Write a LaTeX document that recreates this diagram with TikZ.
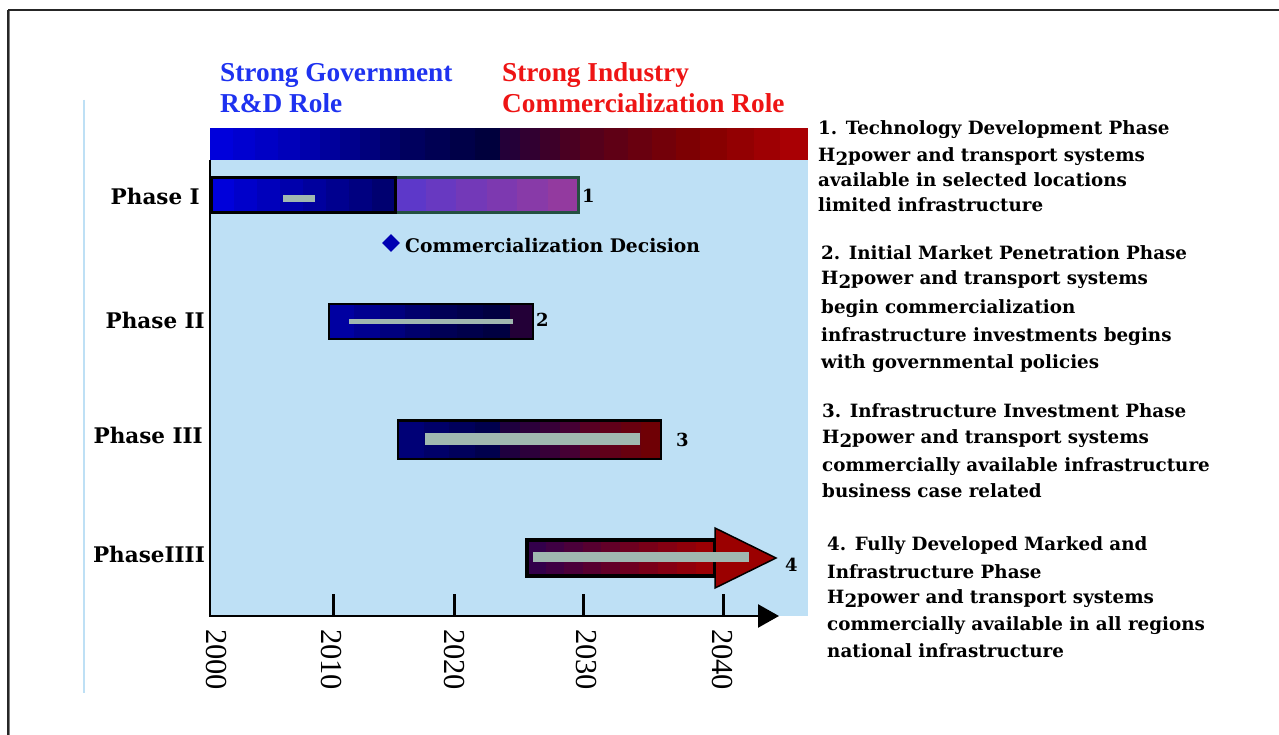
\documentclass[tikz,border=0pt]{standalone}
\usepackage{fontspec}
\setmainfont{DejaVu Serif}
\newfontfamily\headfont{Liberation Serif}
\usetikzlibrary{shapes.geometric,arrows.meta}

\definecolor{panel}{RGB}{190,224,245}
\definecolor{sage}{RGB}{160,184,176}
\definecolor{govblue}{RGB}{30,50,240}
\definecolor{indred}{RGB}{238,20,20}
\definecolor{edgegreen}{RGB}{35,80,65}
\definecolor{headred}{RGB}{155,0,0}

% banded fill: x0 x1 y0 y1 bands colourA colourB
\newcommand\gradbands[7]{%
  \foreach \i in {1,...,#5}{%
    \pgfmathsetmacro\pct{100*(\i-0.5)/#5}%
    \pgfmathsetmacro\xa{#1+(#2-#1)*(\i-1)/#5}%
    \pgfmathsetmacro\xb{#1+(#2-#1)*\i/#5+0.6}%
    \fill[#7!\pct!#6] (\xa,#3) rectangle (\xb,#4);
  }}

\newcommand\rgb[4]{\definecolor{#1}{RGB}{#2,#3,#4}}

\begin{document}
\begin{tikzpicture}[x=1pt,y=-1pt,
  desc/.style={anchor=base west,inner sep=0,font=\fontsize{18.3}{20}\selectfont\bfseries},
  phase/.style={anchor=base east,inner sep=0,font=\fontsize{21.5}{24}\selectfont\bfseries},
  num/.style={anchor=base west,inner sep=0,font=\fontsize{18}{20}\selectfont\bfseries},
  head/.style={anchor=base west,inner sep=0,font=\headfont\fontsize{27.3}{29}\selectfont\bfseries},
  year/.style={anchor=west,inner sep=0,rotate=-90,font=\headfont\fontsize{30.5}{31}\selectfont},
  sagebar/.style={fill=sage}]
\useasboundingbox (0,0) rectangle (1279,735);
\fill[white] (0,0) rectangle (1279,735);

% outer frame
\draw[gray,line width=1pt] (9,11) -- (1279,11);
\draw[gray,line width=1pt] (9.5,11) -- (9.5,735);
\draw[black!85,line width=1.5pt] (8,10) -- (1279,10);
\draw[black!85,line width=1.5pt] (8,10) -- (8,735);

% thin edge of the chart area
\draw[panel,line width=2pt] (84,100) -- (84,693);

% colour scale bar
\rgb{a0}{0}{0}{225}\rgb{a1}{0}{0}{180}\rgb{a2}{0}{0}{100}\rgb{a3}{0}{0}{55}
\rgb{a4}{30}{0}{60}\rgb{a5}{80}{0}{30}\rgb{a6}{130}{0}{0}\rgb{a7}{175}{0}{5}
\gradbands{210}{300}{128}{160}{4}{a0}{a1}
\gradbands{300}{400}{128}{160}{5}{a1}{a2}
\gradbands{400}{500}{128}{160}{4}{a2}{a3}
\gradbands{500}{580}{128}{160}{4}{a4}{a5}
\gradbands{580}{700}{128}{160}{5}{a5}{a6}
\gradbands{700}{807}{128}{160}{4}{a6}{a7}

% chart background
\fill[panel] (210,160) rectangle (808,616);

% headings
\node[head,text=govblue] (govA) at (220,82) {Strong Government};
\node[head,text=govblue] (govB) at (220,113) {R\&D Role};
\node[head,text=indred] (indA) at (502,82) {Strong Industry};
\node[head,text=indred] (indB) at (502,113) {Commercialization Role};

% Phase I bar: government part and industry part
\rgb{p0}{88}{56}{205}\rgb{p1}{152}{58}{155}
\gradbands{395}{578}{178}{213}{6}{p0}{p1}
\draw[edgegreen,line width=3pt] (395,178) rectangle (578,213);
\rgb{b0}{0}{0}{225}\rgb{b1}{0}{0}{105}
\gradbands{211}{395}{178}{213}{8}{b0}{b1}
\draw[black,line width=3pt] (211,178) rectangle (395,213);
\fill[sagebar] (283,195) rectangle (315,202);

% Phase II bar
\rgb{c0}{0}{0}{170}\rgb{c1}{0}{0}{100}\rgb{c2}{0}{0}{90}\rgb{c3}{0}{0}{60}\rgb{c4}{35}{0}{55}
\gradbands{329}{430}{304}{339}{4}{c0}{c1}
\gradbands{430}{510}{304}{339}{3}{c2}{c3}
\gradbands{510}{533}{304}{339}{1}{c4}{c4}
\draw[black,line width=1.5pt] (329,304) rectangle (533,339);
\fill[sagebar] (349,319) rectangle (513,324);

% Phase III bar
\rgb{d0}{0}{0}{125}\rgb{d1}{0}{0}{70}\rgb{d2}{25}{0}{65}\rgb{d3}{75}{0}{50}
\rgb{d4}{85}{0}{40}\rgb{d5}{115}{0}{0}
\gradbands{398}{500}{420}{459}{4}{d0}{d1}
\gradbands{500}{580}{420}{459}{4}{d2}{d3}
\gradbands{580}{661}{420}{459}{4}{d4}{d5}
\draw[black,line width=1.5pt] (398,420) rectangle (661,459);
\draw[black,line width=2pt] (398,420.5) -- (661,420.5);
\fill[sagebar] (425,433) rectangle (640,445);

% Phase IIII arrow
\rgb{e0}{45}{0}{80}\rgb{e1}{105}{0}{35}\rgb{e2}{160}{0}{0}
\gradbands{527}{620}{540}{576}{5}{e0}{e1}
\gradbands{620}{715}{540}{576}{5}{e1}{e2}
\draw[black,line width=4pt] (527,540) rectangle (715,576);
\filldraw[fill=headred,draw=black,line width=1.5pt] (715,528) -- (776,558) -- (715,588) -- cycle;
\fill[sagebar] (533,552) rectangle (749,562);

% axes
\draw[black,line width=2.5pt] (210,160) -- (210,617);
\draw[black,line width=2.5pt,-{Triangle[length=21pt,width=23pt]}] (209,616) -- (779,616);
\foreach \x in {333,454,583,723}{\draw[black,line width=3pt] (\x,594) -- (\x,616);}

% year labels
\node[year] (y2000) at (216,629) {2000};
\node[year] (y2010) at (331,629) {2010};
\node[year] (y2020) at (454,629) {2020};
\node[year] (y2030) at (586,629) {2030};
\node[year] (y2040) at (722,629) {2040};

% phase labels
\node[phase] (ph1) at (200,205) {Phase I};
\node[phase] (ph2) at (205,328) {Phase II};
\node[phase] (ph3) at (203,443) {Phase III};
\node[phase] (ph4) at (205,562) {PhaseIIII};

% bar numbers
\node[num] (n1) at (582,203) {1};
\node[num] (n2) at (536,326) {2};
\node[num] (n3) at (676,446) {3};
\node[num] (n4) at (785,571) {4};

% decision marker
\node[diamond,fill=blue!70!black,inner sep=0,minimum size=18pt] (dec) at (391,243) {};
\node[desc,font=\fontsize{18.7}{20}\selectfont\bfseries] (decTxt) at (405,253) {Commercialization Decision};

% phase descriptions
\newcommand\Htwo{H\raisebox{-4pt}{2}}
\node[desc] (t1a) at (818,135) {1. Technology Development Phase};
\node[desc] (t1b) at (818,162) {\Htwo power and transport systems};
\node[desc] (t1c) at (818,187) {available in selected locations};
\node[desc] (t1d) at (818,212) {limited infrastructure};

\node[desc] (t2a) at (821,260) {2. Initial Market Penetration Phase};
\node[desc] (t2b) at (821,284) {\Htwo power and transport systems};
\node[desc] (t2c) at (821,313) {begin commercialization};
\node[desc] (t2d) at (821,341) {infrastructure investments begins};
\node[desc] (t2e) at (821,368) {with governmental policies};

\node[desc] (t3a) at (822,417) {3. Infrastructure Investment Phase};
\node[desc] (t3b) at (822,443) {\Htwo power and transport systems};
\node[desc] (t3c) at (822,471) {commercially available infrastructure};
\node[desc] (t3d) at (822,497) {business case related};

\node[desc] (t4a) at (827,550) {4. Fully Developed Marked and};
\node[desc] (t4b) at (827,578) {Infrastructure Phase};
\node[desc] (t4c) at (827,603) {\Htwo power and transport systems};
\node[desc] (t4d) at (827,630) {commercially available in all regions};
\node[desc] (t4e) at (827,657) {national infrastructure};
\end{tikzpicture}
\end{document}
